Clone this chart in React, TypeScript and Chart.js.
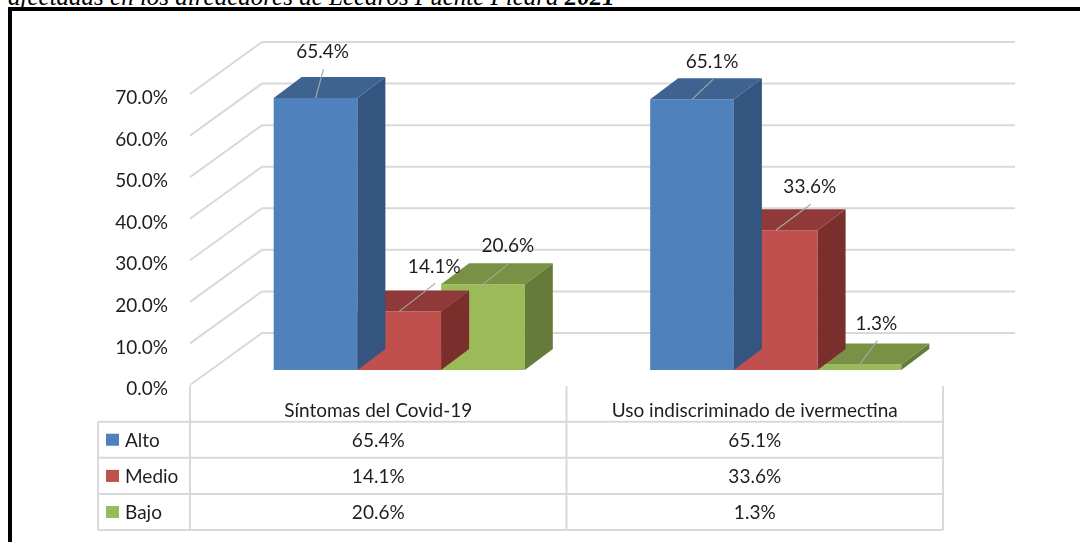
import React, { useEffect, useRef } from 'react';
import { Chart, registerables } from 'chart.js';

Chart.register(...registerables);

// ---- data ----
const CATEGORIES = ['Síntomas del Covid-19', 'Uso indiscriminado de ivermectina'];
const SERIES_NAMES = ['Alto', 'Medio', 'Bajo'];
const ALTO = [65.4, 65.1];
const MEDIO = [14.1, 33.6];
const BAJO = [20.6, 1.3];
const Y_MIN = 0;
const Y_MAX = 70;
const Y_STEP = 10;
const TITLE = 'afectadas en los alrededores de Lecaros Puente Piedra';
const TITLE_YEAR = '2021';

// ---- styles ----
const FRONT = ['#4F81BD', '#C0504D', '#9BBB59'];
const TOP = ['#3E6390', '#8F3A38', '#789145'];
const SIDE = ['#34557F', '#7B2F2D', '#667B3A'];
const GRID = '#D9D9D9';
const TEXT = '#1E1E1E';
const FONT = 'Lato';
const FS = 19;

// label placement (label centre relative to the top-front centre of each bar)
const SHIFT_ALTO = [[7, -46], [20, -37]];
const SHIFT_MEDIO = [[35, -45], [34, -43]];
const SHIFT_BAJO = [[25, -38], [17, -41]];

const WALL = { dx: 72, dy: -52 };
const BAR_SHIFT = { dx: 21, dy: -15 };
const BAR_DEPTH = { dx: 28, dy: -21 };

function poly(ctx: CanvasRenderingContext2D, pts: number[][]) {
  ctx.beginPath();
  ctx.moveTo(pts[0][0], pts[0][1]);
  for (let k = 1; k < pts.length; k++) ctx.lineTo(pts[k][0], pts[k][1]);
  ctx.closePath();
  ctx.fill();
}

const threeD = {
  id: 'threeD',
  beforeDatasetsDraw(chart: any) {
    const { ctx, chartArea: a, scales } = chart;
    const y = scales.y;
    ctx.save();
    ctx.strokeStyle = GRID;
    ctx.lineWidth = 2;
    for (const t of y.ticks) {
      const py = y.getPixelForValue(t.value);
      ctx.beginPath();
      ctx.moveTo(a.left, py);
      ctx.lineTo(a.left + WALL.dx, py + WALL.dy);
      ctx.lineTo(a.right + WALL.dx, py + WALL.dy);
      ctx.stroke();
    }
    ctx.restore();
  },
  beforeDatasetDraw(chart: any) {
    chart.ctx.save();
    chart.ctx.translate(BAR_SHIFT.dx, BAR_SHIFT.dy);
  },
  afterDatasetDraw(chart: any, args: any) {
    const ctx = chart.ctx;
    const i = args.index;
    args.meta.data.forEach((bar: any) => {
      const { x, y, base, width } = bar.getProps(['x', 'y', 'base', 'width'], true);
      const x0 = x - width / 2;
      const x1 = x + width / 2;
      ctx.fillStyle = SIDE[i];
      poly(ctx, [[x1, y], [x1 + BAR_DEPTH.dx, y + BAR_DEPTH.dy], [x1 + BAR_DEPTH.dx, base + BAR_DEPTH.dy], [x1, base]]);
      ctx.fillStyle = TOP[i];
      poly(ctx, [[x0, y], [x1, y], [x1 + BAR_DEPTH.dx, y + BAR_DEPTH.dy], [x0 + BAR_DEPTH.dx, y + BAR_DEPTH.dy]]);
    });
    ctx.restore();
  },
  afterDatasetsDraw(chart: any) {
    const ctx = chart.ctx;
    const shifts = [SHIFT_ALTO, SHIFT_MEDIO, SHIFT_BAJO];
    ctx.save();
    ctx.font = `${FS}px ${FONT}`;
    ctx.textAlign = 'center';
    ctx.textBaseline = 'middle';
    chart.data.datasets.forEach((ds: any, i: number) => {
      const meta = chart.getDatasetMeta(i);
      meta.data.forEach((bar: any, j: number) => {
        const { x, y } = bar.getProps(['x', 'y'], true);
        const cx = x + BAR_SHIFT.dx;
        const top = y + BAR_SHIFT.dy;
        const [sx, sy] = shifts[i][j];
        ctx.strokeStyle = '#A6A6A6';
        ctx.lineWidth = 1.2;
        ctx.beginPath();
        ctx.moveTo(cx, top);
        ctx.lineTo(cx + sx + 1, top + sy + 17);
        ctx.stroke();
        ctx.fillStyle = TEXT;
        ctx.fillText(`${Number(ds.data[j]).toFixed(1)}%`, cx + sx, top + sy);
      });
    });
    ctx.restore();
  },
  afterDraw(chart: any) {
    const { ctx, chartArea: a, scales } = chart;
    const xs = scales.x;
    const colL = a.left;
    const colR = a.right;
    const colM = (xs.getPixelForValue(0) + xs.getPixelForValue(1)) / 2;
    const legL = 98;
    const rowY = [421.7, 457.8, 494, 530];
    ctx.save();
    ctx.strokeStyle = GRID;
    ctx.lineWidth = 2;
    ctx.beginPath();
    for (const vx of [colL, colM, colR]) {
      ctx.moveTo(vx, a.bottom + 1);
      ctx.lineTo(vx, rowY[3]);
    }
    ctx.moveTo(legL, rowY[0]);
    ctx.lineTo(legL, rowY[3]);
    for (const ry of rowY) {
      ctx.moveTo(legL, ry);
      ctx.lineTo(colR, ry);
    }
    ctx.stroke();

    ctx.font = `${FS}px ${FONT}`;
    ctx.textBaseline = 'middle';
    const series = [ALTO, MEDIO, BAJO];
    series.forEach((vals, r) => {
      const cy = (rowY[r] + rowY[r + 1]) / 2;
      ctx.fillStyle = FRONT[r];
      ctx.fillRect(106, cy - 6, 13, 12);
      ctx.fillStyle = TEXT;
      ctx.textAlign = 'left';
      ctx.fillText(SERIES_NAMES[r], 125, cy + 1);
      ctx.textAlign = 'center';
      vals.forEach((v, j) => {
        ctx.fillText(`${v.toFixed(1)}%`, xs.getPixelForValue(j), cy + 1);
      });
    });
    ctx.restore();
  },
};

export default function App() {
  const ref = useRef<HTMLCanvasElement | null>(null);
  useEffect(() => {
    if (!ref.current) return;
    const chart = new Chart(ref.current, {
      type: 'bar',
      data: {
        labels: CATEGORIES,
        datasets: [ALTO, MEDIO, BAJO].map((d, i) => ({
          label: SERIES_NAMES[i],
          data: d,
          backgroundColor: FRONT[i],
          borderWidth: 0,
          categoryPercentage: 0.667,
          barPercentage: 1,
        })),
      },
      options: {
        responsive: false,
        animation: false,
        devicePixelRatio: 1,
        events: [],
        layout: { padding: { top: 94, right: 137, bottom: 0, left: 0 } },
        plugins: { legend: { display: false }, tooltip: { enabled: false } },
        scales: {
          x: {
            grid: { display: false, drawTicks: false },
            border: { display: false },
            ticks: { font: { family: FONT, size: FS }, color: TEXT, padding: 14, maxRotation: 0, autoSkip: false },
            afterFit(s: any) { s.height = 542 - 385; },
          },
          y: {
            min: Y_MIN,
            max: Y_MAX,
            grid: { display: false, drawTicks: false },
            border: { display: false },
            ticks: {
              stepSize: Y_STEP,
              font: { family: FONT, size: FS },
              color: TEXT,
              padding: 22,
              labelOffset: 4,
              callback: (v: any) => `${Number(v).toFixed(1)}%`,
            },
            afterFit(s: any) { s.width = 190; },
          },
        },
      } as any,
      plugins: [threeD],
    });
    return () => chart.destroy();
  }, []);

  return (
    <div style={{ position: 'absolute', left: 0, top: 0, width: 1080, height: 542, overflow: 'hidden', background: '#fff' }}>
      <div style={{ position: 'absolute', left: 8, top: -16.4, fontFamily: '"Liberation Serif", serif', fontStyle: 'italic', fontSize: 25, lineHeight: '25px', whiteSpace: 'nowrap', color: '#000' }}>
        {TITLE} <b>{TITLE_YEAR}</b>
      </div>
      <div style={{ position: 'absolute', left: 8, top: 7, width: 1300, height: 800, border: '4px solid #000', boxSizing: 'border-box' }} />
      <canvas ref={ref} width={1080} height={542} style={{ position: 'absolute', left: 0, top: 0 }} />
    </div>
  );
}
